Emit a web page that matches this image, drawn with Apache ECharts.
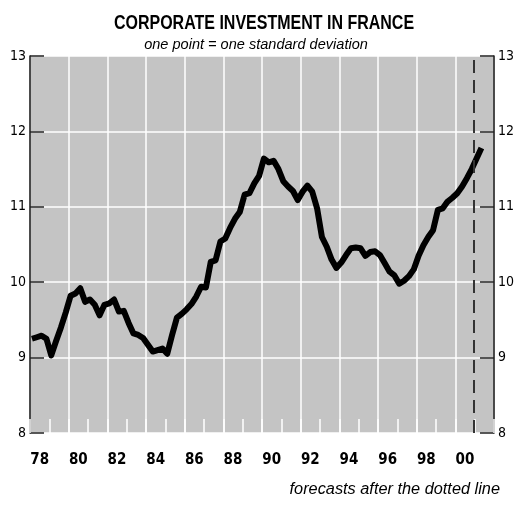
<!DOCTYPE html>
<html>
<head>
<meta charset="utf-8">
<script src="https://cdn.jsdelivr.net/npm/echarts@6/dist/echarts.min.js"></script>
<style>
  html, body { margin: 0; padding: 0; background: #fff; }
  #chart { width: 517px; height: 506px; }
</style>
</head>
<body>
<div id="chart"></div>
<script>
// year labels on the bottom axis (one band per year)
const yearLabels = ['78', '79', '80', '81', '82', '83', '84', '85', '86', '87', '88', '89',
  '90', '91', '92', '93', '94', '95', '96', '97', '98', '99', '00', '01']
// quarterly readings, first quarter of 1978 onwards
const firstYear = 1978
const investment = [
  9.25, 9.27, 9.29, 9.25, 9.03, 9.22, 9.40, 9.60, 9.82, 9.85,
  9.92, 9.74, 9.77, 9.70, 9.56, 9.70, 9.72, 9.77, 9.61, 9.62,
  9.46, 9.32, 9.30, 9.26, 9.17, 9.08, 9.10, 9.12, 9.05, 9.30,
  9.53, 9.58, 9.64, 9.71, 9.81, 9.94, 9.93, 10.27, 10.29, 10.54,
  10.58, 10.72, 10.84, 10.93, 11.16, 11.18, 11.31, 11.41, 11.64, 11.59,
  11.61, 11.50, 11.34, 11.27, 11.21, 11.09, 11.20, 11.28, 11.20, 10.98,
  10.60, 10.47, 10.30, 10.19, 10.26, 10.36, 10.45, 10.46, 10.45, 10.35,
  10.40, 10.41, 10.36, 10.25, 10.14, 10.09, 9.98, 10.02, 10.08, 10.17,
  10.35, 10.49, 10.60, 10.69, 10.96, 10.98, 11.07, 11.12, 11.18, 11.27,
  11.38, 11.50, 11.64, 11.78
]
// forecasts start here
const forecastStart = 2000.95

const narrow = "'Liberation Sans Narrow', 'DejaVu Sans Condensed', sans-serif"
const sans = "'Liberation Sans', Arial, sans-serif"

let seriesData = investment.map((v, i) => [firstYear + 0.1 + i * 0.25, v])

let myChart = echarts.init(document.getElementById('chart'))
myChart.setOption({
  animation: false,
  graphic: [
    {
      type: 'text',
      x: 264,
      y: 23,
      scaleX: 0.8,
      style: {
        text: 'CORPORATE INVESTMENT IN FRANCE',
        font: 'bold 20px ' + sans,
        fill: '#000',
        align: 'center',
        verticalAlign: 'middle'
      }
    },
    {
      type: 'text',
      x: 256,
      y: 45,
      scaleX: 0.97,
      style: {
        text: 'one point = one standard deviation',
        font: 'italic 15px ' + sans,
        fill: '#000',
        align: 'center',
        verticalAlign: 'middle'
      }
    },
    {
      type: 'text',
      x: 500,
      y: 490,
      scaleX: 1.02,
      style: {
        text: 'forecasts after the dotted line',
        font: 'italic 16px ' + sans,
        fill: '#000',
        align: 'right',
        verticalAlign: 'middle'
      }
    }
  ],
  grid: {
    left: 30,
    right: 19,
    top: 56,
    bottom: 73,
    show: true,
    backgroundColor: '#c4c4c4',
    borderWidth: 0
  },
  xAxis: [
    {
      type: 'category',
      data: yearLabels,
      boundaryGap: true,
      position: 'bottom',
      axisLine: { show: false },
      axisTick: { show: true, inside: true, length: 14, interval: 0, lineStyle: { color: '#fff', width: 1.5 } },
      axisLabel: { interval: 1, margin: 20, fontFamily: narrow, fontWeight: 'bold', fontSize: 15, color: '#000' },
      splitLine: { show: true, interval: 1, lineStyle: { color: '#fff', width: 1.5 } }
    },
    {
      type: 'value',
      min: 1978,
      max: 2002,
      show: false
    }
  ],
  yAxis: [
    {
      type: 'value',
      min: 8,
      max: 13,
      interval: 1,
      position: 'left',
      axisLine: { show: true, lineStyle: { color: '#111', width: 1.5 } },
      axisTick: { show: true, inside: true, length: 14, lineStyle: { color: '#222', width: 1.5 } },
      axisLabel: { margin: 4, fontFamily: narrow, fontSize: 14, color: '#000' },
      splitLine: { show: true, lineStyle: { color: '#fff', width: 1.5 } }
    },
    {
      type: 'value',
      min: 8,
      max: 13,
      interval: 1,
      position: 'right',
      axisLine: { show: true, lineStyle: { color: '#111', width: 1.5 } },
      axisTick: { show: true, inside: true, length: 14, lineStyle: { color: '#222', width: 1.5 } },
      axisLabel: { margin: 4, fontFamily: narrow, fontSize: 14, color: '#000' },
      splitLine: { show: false }
    }
  ],
  series: [
    {
      name: 'investment',
      type: 'line',
      xAxisIndex: 1,
      yAxisIndex: 0,
      data: seriesData,
      symbol: 'none',
      lineStyle: { color: '#000', width: 6, join: 'round' },
      markLine: {
        silent: true,
        symbol: 'none',
        label: { show: false },
        lineStyle: { color: '#333', width: 2, type: [13, 7] },
        data: [{ xAxis: forecastStart }]
      }
    }
  ]
})
</script>
</body>
</html>
